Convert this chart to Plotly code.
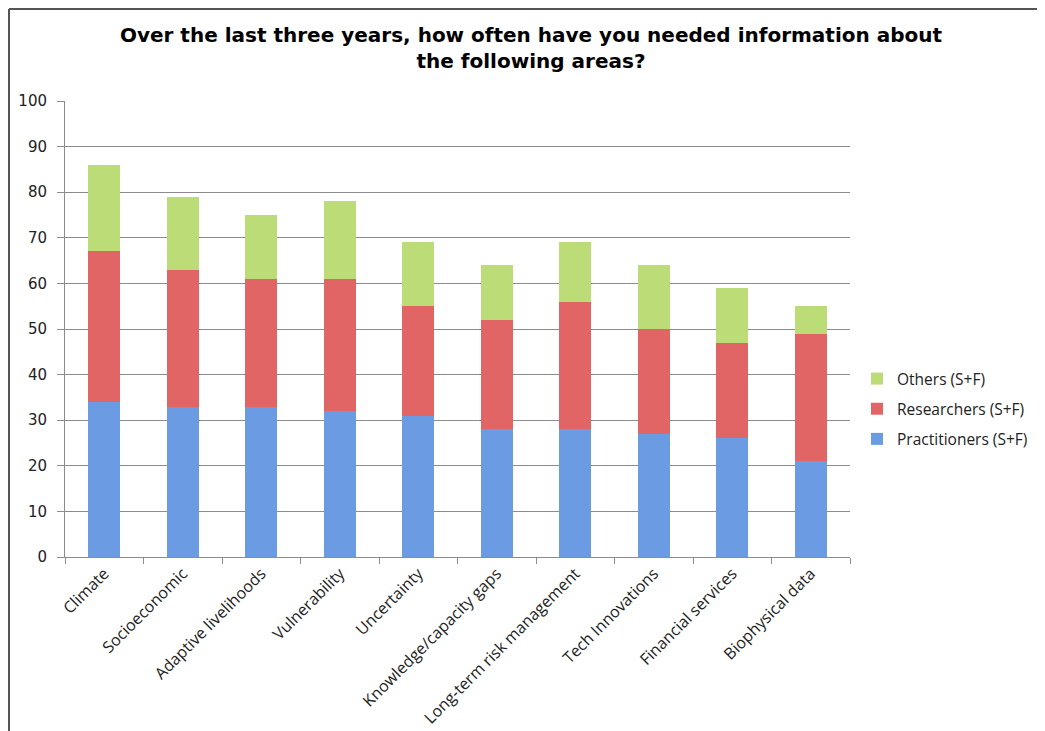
import plotly.graph_objects as go

categories = ["Climate", "Socioeconomic", "Adaptive livelihoods", "Vulnerability",
              "Uncertainty", "Knowledge/capacity gaps", "Long-term risk management",
              "Tech Innovations", "Financial services", "Biophysical data"]
practitioners = [34, 33, 33, 32, 31, 28, 28, 27, 26, 21]
researchers = [33, 30, 28, 29, 24, 24, 28, 23, 21, 28]
others = [19, 16, 14, 17, 14, 12, 13, 14, 12, 6]
y_ticks = [0, 10, 20, 30, 40, 50, 60, 70, 80, 90, 100]

OFF = 8  # page body margin
W, H = 1045 - OFF, 731 - OFF
L, T = 65 - OFF, 101 - OFF
R = W - (850 - OFF)
B = H - (557 - OFF)
pw, ph = W - L - R, H - T - B

def px_x(p):  # page px -> paper
    return (p - OFF - L) / pw

def px_y(p):
    return (H - B - (p - OFF)) / ph

fig = go.Figure()
series = [
    ("Practitioners (S+F)", practitioners, "#6a9be3", "g1", 3),
    ("Researchers (S+F)", researchers, "#e26565", "g2", 2),
    ("Others (S+F)", others, "#bcdc78", "g3", 1),
]
for name, vals, col, grp, rank in series:
    fig.add_trace(go.Bar(
        x=categories, y=vals, name=name, legendgroup=grp, legendrank=rank,
        marker=dict(color=col, line=dict(width=0)),
    ))

font_main = "Open Sans, DejaVu Sans, sans-serif"
font_num = "DejaVu Sans, Verdana, sans-serif"

fig.update_layout(
    width=W, height=H,
    barmode="stack",
    bargap=0.59,
    paper_bgcolor="white",
    plot_bgcolor="white",
    margin=dict(l=L, r=R, t=T, b=B, autoexpand=False),
    font=dict(family=font_main, size=15, color="#222222"),
    title=dict(
        text="Over the last three years, how often have you needed information about<br>the following areas?",
        x=(531 - OFF) / W, xanchor="center", xref="container",
        y=1 - (42 - OFF) / H, yanchor="middle", yref="container",
        font=dict(family="DejaVu Sans, Verdana, sans-serif", size=20, color="#000000", weight="bold"),
    ),
    legend=dict(
        x=px_x(857), xanchor="left",
        y=px_y(409), yanchor="middle",
        traceorder="grouped",
        tracegroupgap=7,
        font=dict(family=font_main, size=15.5, color="#222222"),
        itemwidth=30,
        bgcolor="rgba(0,0,0,0)",
    ),
    xaxis=dict(
        type="category",
        tickangle=-45,
        showline=True, linecolor="#8c8c8c", linewidth=1,
        ticks="outside", tickson="boundaries", ticklen=6, tickcolor="#8c8c8c",
        showgrid=False,
        tickfont=dict(family=font_main, size=16, color="#222222"),
    ),
    yaxis=dict(
        range=[0, 100],
        tickvals=y_ticks,
        ticktext=[str(v) for v in y_ticks],
        showline=True, linecolor="#8c8c8c", linewidth=1,
        ticks="outside", ticklen=7, tickcolor="#8c8c8c",
        ticklabelstandoff=7,
        showgrid=True, gridcolor="#8c8c8c", gridwidth=1,
        zeroline=False,
        tickfont=dict(family=font_num, size=15, color="#222222"),
    ),
    shapes=[
        dict(type="line", xref="paper", yref="paper",
             x0=px_x(9), x1=px_x(1050), y0=px_y(9), y1=px_y(9),
             line=dict(color="#555555", width=2)),
        dict(type="line", xref="paper", yref="paper",
             x0=px_x(9), x1=px_x(9), y0=px_y(9), y1=px_y(740),
             line=dict(color="#555555", width=2)),
    ],
)

fig.write_html("out.html")
